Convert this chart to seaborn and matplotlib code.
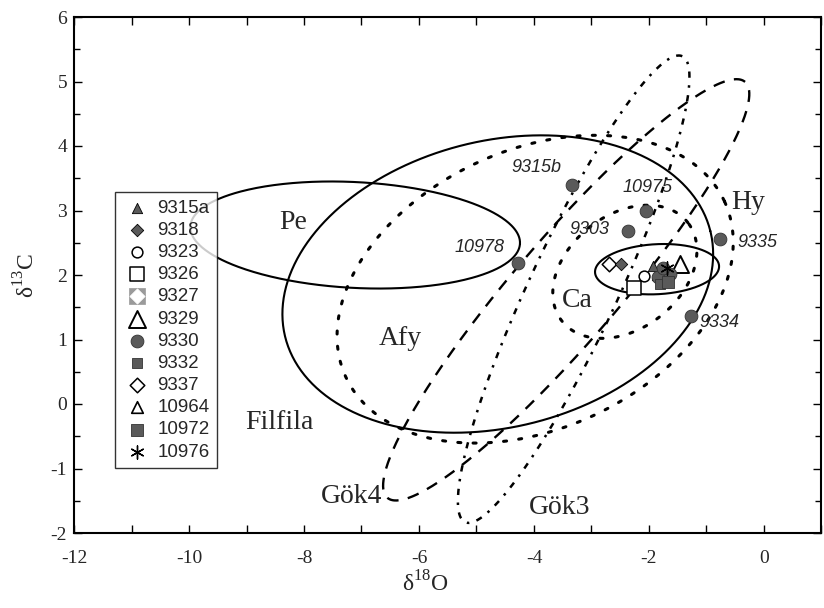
import numpy as np
import pandas as pd
import matplotlib
matplotlib.use("Agg")
import matplotlib.pyplot as plt
from matplotlib.ticker import MultipleLocator, FuncFormatter
from matplotlib.legend_handler import HandlerTuple
import seaborn as sns

sns.set_theme(style="white")
plt.rcParams['font.family'] = ['Liberation Serif', 'DejaVu Serif']
plt.rcParams['mathtext.fontset'] = 'custom'
plt.rcParams['mathtext.rm'] = 'Liberation Serif'
plt.rcParams['axes.unicode_minus'] = False

# ---------------- data ----------------
# legend samples (cluster near Carrara field)
samples = ['9315a', '9318', '9323', '9326', '9327', '9329', '9330', '9332',
           '9337', '10964', '10972', '10976']
sample_x = [[-1.93], [-2.49], [-2.09], [-2.26], [-1.78], [-1.46],
            [-1.84, -1.63, -1.76], [-1.81], [-2.70], [-1.85], [-1.67], [-1.69]]
sample_y = [[2.14], [2.17], [1.98], [1.80], [1.98], [2.17],
            [1.97, 2.02, 2.11], [1.86], [2.17], [2.02], [1.89], [2.11]]

# individually labelled samples (filled circles)
lab_names = ['9315b', '10975', '9303', '9335', '10978', '9334']
lab_x = [-3.34, -2.05, -2.37, -0.77, -4.28, -1.27]
lab_y = [3.40, 2.99, 2.68, 2.56, 2.19, 1.36]
lab_tx = [-3.95, -2.03, -3.03, -0.12, -4.94, -0.77]
lab_ty = [3.67, 3.36, 2.70, 2.51, 2.42, 1.26]

# quarry fields: centre, semi-axes (x units), rotation (deg)
fields = ['Pe', 'Afy', 'Filfila', 'Ca', 'Hy', 'Gök4', 'Gök3']
field_cx = [-7.11, -4.63, -3.98, -1.86, -2.42, -3.44, -3.31]
field_cy = [2.62, 1.86, 1.78, 2.09, 2.05, 1.77, 1.78]
field_a = [2.87, 3.81, 3.63, 1.08, 1.39, 4.77, 4.47]
field_b = [0.92, 2.49, 2.42, 0.435, 0.99, 0.90, 0.77]
field_ang = [-3, 14, 25, 3, 38, 49.3, 65]
field_tx = [-8.19, -6.33, -8.43, -3.25, -0.28, -7.18, -3.55]
field_ty = [2.82, 1.02, -0.28, 1.61, 3.12, -1.44, -1.60]

# ---------------- figure ----------------
fig = plt.figure(figsize=(8.24, 6.08), dpi=100)
ax = fig.add_axes([74/824, 1-533/608, (821.5-74)/824, (533-17)/608])
ax.set_xlim(-12, 1)
ax.set_ylim(-2, 6)

# y-data units per x-data unit at equal screen length
k = (ax.get_position().width * 824 / 13) / (ax.get_position().height * 608 / 8)

styles = {
    'Pe': dict(ls='-', lw=1.5),
    'Afy': dict(ls='-', lw=1.5),
    'Ca': dict(ls='-', lw=1.5),
    'Filfila': dict(ls=(0, (1, 4)), lw=2.2, dash_capstyle='round'),
    'Hy': dict(ls=(0, (1, 4)), lw=2.2, dash_capstyle='round'),
    'Gök4': dict(ls=(0, (5, 4)), lw=1.7),
    'Gök3': dict(ls=(0, (2.5, 3, 1, 3)), lw=1.8),
}
t = np.linspace(0, 2 * np.pi, 500)
for name, cx, cy, a, b, ang in zip(fields, field_cx, field_cy, field_a, field_b, field_ang):
    th = np.deg2rad(ang)
    u, v = a * np.cos(t), b * np.sin(t)
    ex = cx + u * np.cos(th) - v * np.sin(th)
    ey = cy + (u * np.sin(th) + v * np.cos(th)) * k
    ax.plot(ex, ey, color='black', zorder=2, **styles[name])

for name, tx, ty in zip(fields, field_tx, field_ty):
    ax.text(tx, ty, name, fontsize=20, ha='center', va='center', zorder=5)

dark = '#5a5a5a'
mstyle = {
    '9315a': dict(marker='^', s=55, facecolor=dark, edgecolor='black', linewidth=0.6),
    '9318': dict(marker='D', s=40, facecolor=dark, edgecolor='black', linewidth=0.6),
    '9323': dict(marker='o', s=60, facecolor='white', edgecolor='black', linewidth=1.1),
    '9326': dict(marker='s', s=110, facecolor='white', edgecolor='black', linewidth=1.1),
    '9327': dict(marker='D', s=60, facecolor='white', edgecolor='white', linewidth=0.5),
    '9329': dict(marker='^', s=150, facecolor='white', edgecolor='black', linewidth=1.4),
    '9330': dict(marker='o', s=85, facecolor=dark, edgecolor='#333333', linewidth=0.6),
    '9332': dict(marker='s', s=60, facecolor=dark, edgecolor='#333333', linewidth=0.6),
    '9337': dict(marker='D', s=55, facecolor='white', edgecolor='black', linewidth=1.1),
    '10964': dict(marker='^', s=70, facecolor='white', edgecolor='black', linewidth=1.2),
    '10972': dict(marker='s', s=75, facecolor=dark, edgecolor='#333333', linewidth=0.6),
    '10976': dict(marker=(6, 2, 0), s=90, facecolor='black', edgecolor='black', linewidth=1.0),
}
back_9327 = dict(marker='s', s=130, facecolor='#9a9a9a', edgecolor='#9a9a9a', linewidth=0.5)

draw_order = ['9327', '10964', '9323', '9337', '9318', '9326', '9329', '9315a',
              '9330', '9332', '10972', '10976']
for smp in draw_order:
    i = samples.index(smp)
    df = pd.DataFrame({'x': sample_x[i], 'y': sample_y[i]})
    if smp == '9327':
        sns.scatterplot(data=df, x='x', y='y', ax=ax, zorder=4, legend=False,
                        **dict(back_9327, s=50))
        continue
    sns.scatterplot(data=df, x='x', y='y', ax=ax, zorder=4, legend=False, **mstyle[smp])

df_lab = pd.DataFrame({'x': lab_x, 'y': lab_y})
sns.scatterplot(data=df_lab, x='x', y='y', ax=ax, zorder=4, legend=False, **mstyle['9330'])
for name, tx, ty in zip(lab_names, lab_tx, lab_ty):
    ax.text(tx, ty, name, fontsize=13, style='italic', ha='center', va='center',
            family=['Liberation Sans', 'DejaVu Sans'], zorder=5)

# legend with proxy handles
handles = []
for smp in samples:
    st = mstyle[smp]
    h = ax.scatter([], [], marker=st['marker'], s=st['s'], facecolor=st['facecolor'],
                   edgecolor=st['edgecolor'], linewidth=st['linewidth'])
    if smp == '9327':
        hb = ax.scatter([], [], **back_9327)
        h = (hb, h)
    handles.append(h)
leg = ax.legend(handles=handles, labels=samples, loc='upper left',
                bbox_to_anchor=((115 - 74) / (821.5 - 74), (533 - 192) / 516),
                borderaxespad=0, frameon=True, fancybox=False, shadow=False,
                prop={'family': ['Liberation Sans', 'DejaVu Sans'], 'size': 13.5},
                labelspacing=0.27, handletextpad=0.35, handlelength=1.5,
                borderpad=0.4, scatterpoints=1,
                handler_map={tuple: HandlerTuple(ndivide=1, pad=0)})
leg.get_frame().set_edgecolor('black')
leg.get_frame().set_linewidth(1.0)
leg.set_zorder(10)

# axes styling
for sp in ax.spines.values():
    sp.set_color('black')
    sp.set_linewidth(1.5)
ax.xaxis.set_major_locator(MultipleLocator(1))
ax.xaxis.set_major_formatter(FuncFormatter(lambda v, p: f"{int(round(v))}" if int(round(v)) % 2 == 0 else ""))
ax.yaxis.set_major_locator(MultipleLocator(1))
ax.yaxis.set_minor_locator(MultipleLocator(0.5))
ax.yaxis.set_major_formatter(FuncFormatter(lambda v, p: f"{int(round(v))}"))
ax.tick_params(which='both', direction='in', top=True, right=True, bottom=True, left=True,
               color='black', width=1.0)
ax.tick_params(which='major', length=6, labelsize=14, pad=12)
ax.tick_params(axis='y', which='major', pad=5)
ax.tick_params(which='minor', length=4)
ax.set_xlabel(r'δ$^{\mathrm{18}}$O', fontsize=17)
ax.xaxis.set_label_coords(0.47, -0.075)
ax.set_ylabel(r'δ$^{\mathrm{13}}$C', fontsize=17, labelpad=8)
ax.grid(False)

fig.savefig('out.png', dpi=100)
